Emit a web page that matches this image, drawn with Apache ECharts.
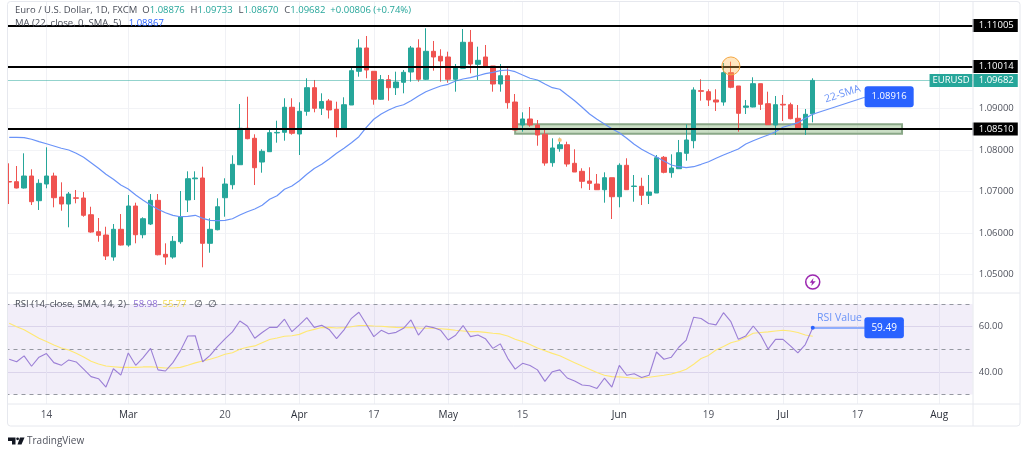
<!DOCTYPE html>
<html><head><meta charset="utf-8">
<style>html,body{margin:0;padding:0;background:#fff}#c{width:1024px;height:455px}</style>
<script src="https://cdn.jsdelivr.net/npm/echarts@6/dist/echarts.min.js"></script>
</head><body><div id="c"></div>
<script>
const opens=[1.07246,1.07241,1.07089,1.07378,1.06783,1.07185,1.07378,1.06872,1.06703,1.06853,
1.06848,1.06445,1.06036,1.05956,1.05426,1.06094,1.05715,1.06655,1.05963,1.06221,
1.06792,1.05491,1.05426,1.05795,1.068,1.07311,1.0733,1.05756,1.06084,1.06855,
1.07168,1.0765,1.08528,1.08287,1.07715,1.07964,1.08417,1.08431,1.09034,1.0839,
1.08937,1.09506,1.0901,1.09186,1.08986,1.08528,1.09089,1.09901,1.10463,1.09901,
1.09227,1.09699,1.09506,1.09636,1.09884,1.10463,1.09709,1.10383,1.10263,1.10246,
1.09709,1.09974,1.106,1.1007,1.10246,1.10029,1.09595,1.09795,1.09161,1.08607,
1.08752,1.08607,1.08383,1.07699,1.08036,1.08132,1.07684,1.07491,1.07258,1.07185,
1.07048,1.07337,1.06879,1.07636,1.07125,1.0713,1.06913,1.06968,1.07829,1.07458,
1.07554,1.07925,1.08229,1.09434,1.0941,1.0921,1.09161,1.09868,1.09547,1.09034,
1.09041,1.09603,1.0912,1.08607,1.09106,1.09096,1.08769,1.08528,1.08876];
const highs=[1.07684,1.07619,1.07925,1.0754,1.07299,1.0807,1.07458,1.07226,1.06992,1.07041,
1.06992,1.06638,1.06366,1.06156,1.06221,1.06462,1.0692,1.06735,1.06383,1.06944,
1.06944,1.05756,1.05932,1.07017,1.07491,1.07491,1.07602,1.06359,1.06841,1.07323,
1.07877,1.09113,1.09289,1.08383,1.08022,1.08487,1.08711,1.09251,1.09251,1.09154,
1.09733,1.09692,1.09371,1.09234,1.09169,1.09275,1.10012,1.10673,1.10752,1.09901,
1.09812,1.09812,1.09892,1.09933,1.10511,1.10673,1.10938,1.10632,1.10432,1.10374,
1.10077,1.10921,1.10897,1.10494,1.10535,1.10029,1.10077,1.09974,1.09354,1.08913,
1.09041,1.08728,1.08487,1.08287,1.08301,1.08205,1.08022,1.07564,1.07588,1.07426,
1.07467,1.07337,1.07684,1.07805,1.07402,1.07337,1.07402,1.07884,1.0786,1.07901,
1.08246,1.08624,1.09516,1.09709,1.09468,1.09468,1.10101,1.10133,1.09547,1.0921,
1.09757,1.09603,1.0941,1.09306,1.0933,1.09145,1.09089,1.08993,1.09733];
const lows=[1.06703,1.0708,1.07077,1.06679,1.06559,1.07082,1.06624,1.06542,1.06142,1.0672,
1.06397,1.06012,1.05795,1.05354,1.05337,1.05703,1.05674,1.05756,1.05877,1.06197,
1.05467,1.0524,1.05385,1.05746,1.0651,1.068,1.05178,1.0553,1.06069,1.06397,
1.07058,1.07643,1.08263,1.07161,1.07458,1.07964,1.08181,1.08229,1.08373,1.07884,
1.08831,1.08913,1.08848,1.08764,1.08311,1.08528,1.09089,1.09771,1.09733,1.09096,
1.0921,1.09193,1.0933,1.09371,1.09651,1.09651,1.09692,1.09916,1.09651,1.09627,
1.0941,1.09974,1.09853,1.09692,1.10012,1.0941,1.0941,1.09,1.08487,1.08446,
1.08566,1.08108,1.07626,1.07602,1.07964,1.07602,1.07474,1.07082,1.07041,1.07041,
1.06735,1.06342,1.06624,1.07041,1.06759,1.06679,1.06703,1.06968,1.07443,1.07337,
1.07547,1.07747,1.08046,1.09193,1.09065,1.08945,1.09072,1.09492,1.08446,1.08872,
1.09034,1.08969,1.08614,1.08366,1.08704,1.08745,1.08528,1.08366,1.0867];
const closes=[1.07233,1.07089,1.07378,1.06759,1.07202,1.07378,1.06855,1.06703,1.06944,1.06841,
1.06431,1.06028,1.05949,1.0545,1.06094,1.05715,1.06655,1.05963,1.06349,1.06792,
1.05481,1.05426,1.05804,1.06397,1.07313,1.0733,1.05756,1.06094,1.06638,1.07185,
1.0766,1.08528,1.08277,1.07578,1.07973,1.08422,1.08429,1.09034,1.08407,1.08937,
1.09506,1.0901,1.09174,1.08969,1.08528,1.09096,1.09916,1.10463,1.09933,1.09227,
1.09699,1.09506,1.09643,1.09877,1.10463,1.09709,1.10383,1.10246,1.1015,1.09709,
1.10012,1.106,1.10077,1.10166,1.10012,1.09595,1.09795,1.09145,1.08487,1.08752,
1.08607,1.08366,1.07691,1.08053,1.08132,1.07667,1.07474,1.0725,1.07202,1.07048,
1.07337,1.06879,1.07636,1.07048,1.07137,1.06913,1.06992,1.07819,1.07467,1.07571,
1.0794,1.08246,1.09451,1.09419,1.0921,1.09161,1.09868,1.09516,1.08889,1.09065,
1.09603,1.09106,1.08614,1.09096,1.09089,1.08759,1.08528,1.08865,1.09682];
const sma22=[1.08311,1.08311,1.08301,1.08263,1.08205,1.08156,1.08101,1.08046,1.08005,1.07925,
1.07829,1.07699,1.07564,1.07419,1.07299,1.07161,1.07065,1.0692,1.06792,1.06679,
1.06576,1.06494,1.06431,1.06397,1.06407,1.06431,1.06359,1.0631,1.06301,1.0631,
1.06349,1.06438,1.06518,1.06583,1.06672,1.06817,1.06903,1.07058,1.07137,1.07265,
1.07419,1.07559,1.0766,1.07788,1.07925,1.08046,1.08181,1.08325,1.08552,1.08745,
1.08872,1.08969,1.09048,1.09096,1.09193,1.09306,1.0941,1.09482,1.09547,1.09588,
1.09668,1.09716,1.09747,1.09795,1.09844,1.09877,1.09916,1.09933,1.09892,1.09812,
1.09733,1.09692,1.09595,1.09506,1.09468,1.0933,1.09193,1.09034,1.08872,1.08745,
1.08631,1.08518,1.08422,1.08287,1.08142,1.08022,1.07925,1.07836,1.0774,1.07643,
1.07602,1.07578,1.07602,1.0766,1.07723,1.07805,1.07884,1.07956,1.08029,1.08149,
1.08229,1.08301,1.08366,1.08446,1.08552,1.08607,1.08663,1.08769,1.08867];
const rsi=[45.6,44.5,47.1,42.5,46.5,48.1,44.1,42.9,45.3,44.4,41.2,37.9,37.0,33.3,41.4,38.6,48.4,42.9,46.3,50.4,
40.9,40.4,44.1,49.3,55.9,56.0,44.5,47.3,51.2,54.6,57.7,62.5,60.3,54.9,57.4,59.7,59.7,63.3,57.8,60.8,
64.0,59.7,60.6,58.8,54.7,58.6,63.7,66.4,61.1,55.6,58.4,56.9,57.5,59.3,63.0,56.3,60.3,59.6,58.4,54.1,
56.2,60.5,55.6,56.3,54.7,50.4,52.4,46.0,41.2,43.8,42.8,40.9,35.8,40.1,40.9,37.3,36.0,34.2,33.9,32.7,
37.2,33.3,42.9,38.5,39.2,37.5,38.5,48.8,45.6,46.5,50.9,54.1,64.2,63.6,61.4,60.8,66.2,62.2,54.4,55.9,
60.3,56.3,50.1,54.4,54.4,51.5,48.4,52.1,59.49];
const rsiMa=[61.5,60.0,58.6,56.8,54.9,53.4,51.9,50.6,49.7,48.2,46.6,44.7,43.5,42.6,42.3,42.0,42.0,42.0,42.2,42.3,
42.0,41.7,41.7,42.0,42.9,44.0,44.8,45.6,46.6,47.8,48.5,50.0,50.9,51.5,52.9,54.3,55.0,55.8,56.0,56.6,
58.0,58.8,59.6,59.7,59.4,59.6,60.0,60.5,60.5,60.3,60.2,59.9,59.7,59.6,59.6,59.4,59.3,59.3,59.1,58.8,
58.4,58.1,57.8,57.8,57.5,57.1,56.8,55.9,54.4,53.4,52.1,50.6,49.4,48.2,47.1,45.6,44.1,42.6,41.2,39.7,
38.5,37.9,37.8,37.5,37.2,37.3,37.6,38.1,38.5,39.1,40.0,41.2,43.4,45.9,47.3,49.7,51.2,52.9,53.8,55.3,
57.1,57.4,57.7,58.1,58.4,58.1,57.4,56.3,55.77];
const sessionLabels=['14','Mar','20','Apr','17','May','15','Jun','19','Jul','17','Aug'];
const sessionIndex=[5,16,29,39,49,59,69,82,94,104,114,125];
const sessionCount=130;
const priceTicks=[1.05,1.06,1.07,1.08,1.09];
const priceGrid=[1.05,1.06,1.07,1.08,1.09,1.10,1.11];
const levels=[1.11005,1.10014,1.0851];
const lastClose=1.09682;
const zone=[1.08398,1.08624];
const rsiTicks=[40,60];
const rsiBands=[70,50,30];
const smaTag=1.08916, rsiTag=59.49;

const FONT='"Open Sans","Noto Sans",sans-serif';
const categories=[...Array(sessionCount).keys()].map(String);
const labelAt=i=>{const k=sessionIndex.indexOf(+i);return k<0?'':sessionLabels[k];};
const isTick=i=>sessionIndex.indexOf(i)>=0;
const GREEN='#26a69a',RED='#ef5350',BLUE='#2962ff';
const left=5.5,width=967.2;

function note(i,v,text,lab,extra){
  return Object.assign({coord:[String(i),v],symbol:'rect',symbolSize:1,itemStyle:{color:'transparent'},
    label:Object.assign({show:true,position:'inside',formatter:text,fontFamily:FONT,color:'#fff',fontSize:10},lab)},extra||{});
}
const candle=opens.map((o,i)=>[o,closes[i],lows[i],highs[i]]);
const tagLabel=(txt,bg)=>({show:true,position:'end',distance:0,formatter:txt,color:'#fff',backgroundColor:bg,padding:[2,4,1,6],fontSize:9.5,fontFamily:FONT});

const option={
 animation:false,backgroundColor:'#fff',
 grid:[{left,width,top:2,height:291},{left,width,top:293,height:111}],
 xAxis:[0,1].map(g=>({type:'category',gridIndex:g,data:categories,boundaryGap:true,
   axisLine:{show:false},axisTick:{show:false},
   splitLine:{show:true,interval:(i)=>isTick(i),alignWithLabel:true,lineStyle:{color:'#f0f1f5',width:1}},
   axisLabel:g?{show:true,interval:0,hideOverlap:false,margin:6,fontFamily:FONT,fontSize:10,
       formatter:v=>{const t=labelAt(v);if(!t)return '';return /\d/.test(t)?'{n|'+t+'}':'{m|'+t+'}';},
       rich:{n:{color:'#50535e',fontSize:10,fontFamily:FONT},m:{color:'#2a2e39',fontSize:10,fontFamily:FONT}}}:{show:false}})),
 yAxis:[
  {type:'value',gridIndex:0,position:'right',min:1.04559,max:1.11571,scale:true,
   axisLine:{show:false},axisTick:{show:false,customValues:priceGrid},
   splitLine:{show:true,lineStyle:{color:'#f2f3f6',width:1}},
   axisLabel:{customValues:priceTicks,margin:6,align:'left',color:'#50535e',fontSize:9.5,fontFamily:FONT,formatter:v=>v.toFixed(5)}},
  {type:'value',gridIndex:1,position:'right',min:25.8,max:74.9,
   axisLine:{show:false},axisTick:{show:false,customValues:rsiTicks},
   splitLine:{show:true,lineStyle:{color:'#e6e3f0',width:1}},
   axisLabel:{customValues:rsiTicks,margin:6,align:'left',color:'#50535e',fontSize:9.5,fontFamily:FONT,formatter:v=>v.toFixed(2)}}
 ],
 series:[
  {type:'candlestick',name:'EURUSD',xAxisIndex:0,yAxisIndex:0,data:candle,barWidth:5,z:3,
   itemStyle:{color:GREEN,color0:RED,borderColor:GREEN,borderColor0:RED,borderWidth:1},
   markArea:{silent:true,z:1,itemStyle:{color:'rgba(150,190,140,0.5)',borderColor:'#8aa888',borderWidth:2},
     data:[[{xAxis:'68',yAxis:zone[0]},{xAxis:'120',yAxis:zone[1]}]]},
   markLine:{silent:true,symbol:'none',animation:false,z:6,precision:5,
     data:levels.map(v=>({yAxis:v,lineStyle:{color:'#000',width:2,type:'solid'},label:tagLabel(v.toFixed(5),'#000')}))
       .concat([{yAxis:lastClose,lineStyle:{color:GREEN,width:1,type:'dotted'},label:tagLabel(lastClose.toFixed(5),GREEN)}])},
   markPoint:{silent:true,z:7,data:[
     {coord:['97',1.1003],symbol:'circle',symbolSize:18,itemStyle:{color:'rgba(255,183,77,0.35)',borderColor:'#f5a742',borderWidth:1},label:{show:false}},
     {coord:['74',1.08246],symbol:'circle',symbolSize:4,itemStyle:{color:'#f7c27a'},label:{show:false}},
     {coord:['108',1.04823],symbol:'circle',symbolSize:14,itemStyle:{color:'#fff',borderColor:'#9c27b0',borderWidth:1.5},label:{show:false}},
     {coord:['108',1.04823],symbol:'path://M5 0L0 6h3L2 10 8 4H4z',symbolSize:[6,8],itemStyle:{color:'#9c27b0'},label:{show:false}},
     note(127,lastClose,'EURUSD',{backgroundColor:GREEN,padding:[2,3,1,3],fontSize:9.5,offset:[-3,0]})
   ]}},
  {type:'line',name:'MA',xAxisIndex:0,yAxisIndex:0,data:sma22,showSymbol:false,symbol:'none',z:4,
   lineStyle:{color:'#6a93f8',width:1.2},
   markLine:{silent:true,symbol:'none',z:5,precision:5,lineStyle:{color:'#6a93f8',width:1.2,type:'solid'},label:{show:false},
     data:[[{coord:['108',sma22[108]]},{coord:['115',1.09275]}]]},
   markPoint:{silent:true,z:7,data:[
     note(118,1.09289,smaTag.toFixed(5),{backgroundColor:BLUE,borderRadius:3,padding:[6,7,5,7],fontSize:9.5,offset:[2,0]}),
     note(112,1.09354,'22-SMA',{color:'#6a93f8',fontSize:10.5,rotate:18})
   ]}},
  {type:'line',name:'RSI',xAxisIndex:1,yAxisIndex:1,data:rsi,showSymbol:false,symbol:'none',z:4,
   lineStyle:{color:'#9b7fd6',width:1.1},
   markArea:{silent:true,itemStyle:{color:'rgba(126,87,194,0.1)'},data:[[{yAxis:rsiBands[2]},{yAxis:rsiBands[0]}]]},
   markLine:{silent:true,symbol:'none',z:2,precision:2,label:{show:false},
     data:rsiBands.map(v=>({yAxis:v,lineStyle:{color:'#9598a1',width:1,type:[4,4]}}))
       .concat([[{coord:['108',rsiTag],lineStyle:{color:'#90aefc',width:2,type:'solid'}},{coord:['115',rsiTag]}]])},
   markPoint:{silent:true,z:7,data:[
     {coord:['108',rsiTag],symbol:'circle',symbolSize:4,itemStyle:{color:BLUE},label:{show:false}},
     note(118,rsiTag,rsiTag.toFixed(2),{backgroundColor:BLUE,borderRadius:3,padding:[6,7,5,7],fontSize:10,offset:[-3,0]}),
     note(112,63.85,'RSI Value',{color:'#6a93f8',fontSize:10.5,offset:[-3,0]})
   ]}},
  {type:'line',name:'RSI MA',xAxisIndex:1,yAxisIndex:1,data:rsiMa,showSymbol:false,symbol:'none',z:3,
   lineStyle:{color:'#ffe873',width:1.1}}
 ],
 graphic:[
  {type:'rect',z:50,shape:{x:0,y:0,width:7,height:427},style:{fill:'#fff'},silent:true},
  {type:'rect',z:51,shape:{x:7.5,y:1.5,width:1012.5,height:424.5,r:3},style:{fill:'none',stroke:'#e6e8ee',lineWidth:1},silent:true},
  {type:'line',z:51,shape:{x1:973,y1:2,x2:973,y2:426},style:{stroke:'#e6e8ee',lineWidth:1},silent:true},
  {type:'line',z:51,shape:{x1:8,y1:293,x2:1020,y2:293},style:{stroke:'#e6e8ee',lineWidth:1},silent:true},
  {type:'line',z:51,shape:{x1:8,y1:404,x2:1020,y2:404},style:{stroke:'#e6e8ee',lineWidth:1},silent:true},
  {type:'text',z:60,x:15,y:10,style:{text:'{k|Euro / U.S. Dollar, 1D, FXCM}{k|  O}{g|1.08876} {k| H}{g|1.09733} {k| L}{g|1.08670} {k| C}{g|1.09682}{g|  +0.00806 (+0.74%)}',
     verticalAlign:'middle',rich:{k:{fill:'#4a4e59',fontSize:9.5,fontFamily:FONT},g:{fill:'#26a69a',fontSize:9.5,fontFamily:FONT}}},silent:true},
  {type:'text',z:60,x:15,y:23,style:{text:'{k|MA (22, close, 0, SMA, 5)}{b|   1.08867}',
     verticalAlign:'middle',rich:{k:{fill:'#4a4e59',fontSize:9.5,fontFamily:FONT},b:{fill:'#2962ff',fontSize:9.5,fontFamily:FONT}}},silent:true},
  {type:'text',z:60,x:15,y:304,style:{text:'{k|RSI (14, close, SMA, 14, 2)}{p|   58.98}{y|  55.77}{k|   \u2205  \u2205}',
     verticalAlign:'middle',rich:{k:{fill:'#4a4e59',fontSize:9.5,fontFamily:FONT},p:{fill:'#8f6fd6',fontSize:9.5,fontFamily:FONT},y:{fill:'#f5dc4e',fontSize:9.5,fontFamily:FONT}}},silent:true},
  {type:'polygon',z:60,shape:{points:[[8,437.5],[15.5,437.5],[15.5,444.5],[12,444.5],[12,441],[8,441]]},style:{fill:'#131722'},silent:true},
  {type:'circle',z:60,shape:{cx:17.6,cy:438.8,r:1.4},style:{fill:'#131722'},silent:true},
  {type:'polygon',z:60,shape:{points:[[20,437.5],[24.5,437.5],[21.5,444.5],[17.5,444.5]]},style:{fill:'#131722'},silent:true},
  {type:'text',z:60,x:27,y:441,style:{text:'TradingView',fill:'#50535e',fontSize:10,fontFamily:FONT,verticalAlign:'middle'},silent:true}
 ]
};
const chart=echarts.init(document.getElementById('c'),null,{renderer:'canvas'});
chart.setOption(option);
</script></body></html>
